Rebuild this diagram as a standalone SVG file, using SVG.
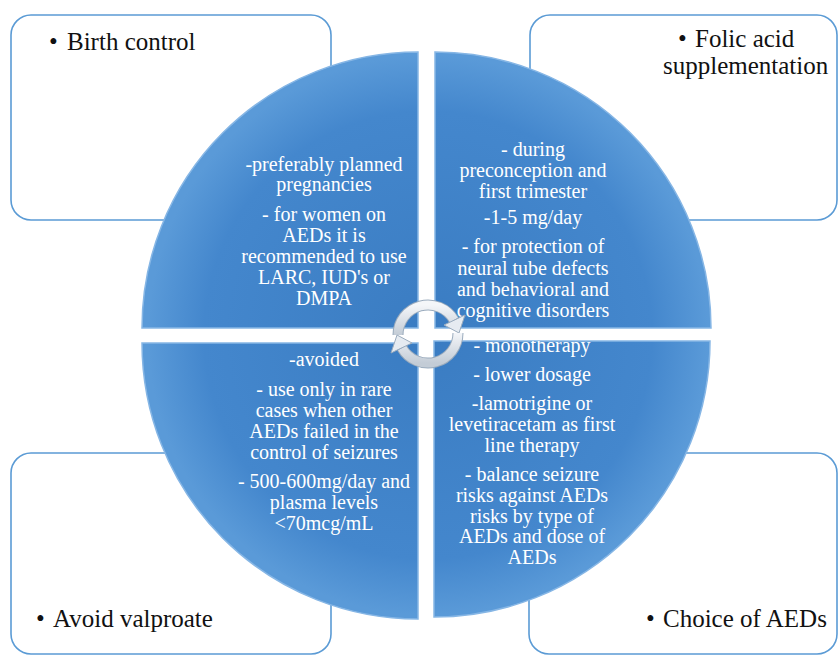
<svg xmlns="http://www.w3.org/2000/svg" width="839" height="657" viewBox="0 0 839 657">
  <defs>
    <radialGradient id="qfill" cx="428" cy="335" r="280" gradientUnits="userSpaceOnUse">
      <stop offset="0" stop-color="#3a7cc2"/>
      <stop offset="0.8" stop-color="#4487cd"/>
      <stop offset="1" stop-color="#5a9ad8"/>
    </radialGradient>
    <linearGradient id="arr" x1="0" y1="0" x2="0" y2="1">
      <stop offset="0" stop-color="#f4f6f9"/>
      <stop offset="1" stop-color="#c3ccd6"/>
    </linearGradient>
    <clipPath id="cTL"><path d="M418,328 L142,328 A276,276 0 0 1 418,52 Z"/></clipPath>
    <clipPath id="cTR"><path d="M435,328 L435,52 A276,276 0 0 1 711,328 Z"/></clipPath>
    <clipPath id="cBL"><path d="M418,343 L418,619 A276,276 0 0 1 142,343 Z"/></clipPath>
    <clipPath id="cBR"><path d="M434,341 L710,341 A276,276 0 0 1 434,617 Z"/></clipPath>
  </defs>
  <style>
    .box { fill: #ffffff; stroke: #5b9bd5; stroke-width: 1.6; }
    .quad { fill: url(#qfill); stroke: #86b6e5; stroke-width: 1.5; }
    .lbl { font-family: "Liberation Serif", "Times New Roman", serif; font-size: 25px; fill: #111111; }
    .qt { font-family: "Liberation Serif", "Times New Roman", serif; font-size: 20px; fill: #ffffff; text-anchor: middle; }
    .arcbg { fill: none; stroke: #9aabbd; stroke-width: 11; }
    .arcfg { fill: none; stroke: url(#arr); stroke-width: 9; }
    .head { fill: #e6ebf1; stroke: #9aabbd; stroke-width: 1; }
  </style>
  <rect width="839" height="657" fill="#ffffff"/>

  <g id="box-birth-control">
    <rect class="box" x="11" y="15" width="320" height="205" rx="20" ry="20"/>
    <text class="lbl" x="49" y="50">•<tspan x="67">Birth control</tspan></text>
  </g>
  <g id="box-folic-acid">
    <rect class="box" x="530" y="15" width="307" height="205" rx="20" ry="20"/>
    <text class="lbl" x="678" y="47">•<tspan x="695">Folic acid</tspan></text>
    <text class="lbl" x="663" y="74">supplementation</text>
  </g>
  <g id="box-avoid-valproate">
    <rect class="box" x="11" y="453" width="320" height="201" rx="20" ry="20"/>
    <text class="lbl" x="36" y="627">•<tspan x="53">Avoid valproate</tspan></text>
  </g>
  <g id="box-choice-aeds">
    <rect class="box" x="529" y="453" width="308" height="201" rx="20" ry="20"/>
    <text class="lbl" x="646" y="627">•<tspan x="663">Choice of AEDs</tspan></text>
  </g>

  <g id="quad-tl">
    <path class="quad" d="M418,328 L142,328 A276,276 0 0 1 418,52 Z"/>
    <g clip-path="url(#cTL)">
      <text class="qt" x="324" y="171">-preferably planned</text>
      <text class="qt" x="324" y="191">pregnancies</text>
      <text class="qt" x="324" y="221">- for women on</text>
      <text class="qt" x="324" y="242">AEDs it is</text>
      <text class="qt" x="324" y="263">recommended to use</text>
      <text class="qt" x="324" y="284">LARC, IUD's or</text>
      <text class="qt" x="324" y="305">DMPA</text>
    </g>
  </g>
  <g id="quad-tr">
    <path class="quad" d="M435,328 L435,52 A276,276 0 0 1 711,328 Z"/>
    <g clip-path="url(#cTR)">
      <text class="qt" x="533" y="156">- during</text>
      <text class="qt" x="533" y="177">preconception and</text>
      <text class="qt" x="533" y="198">first trimester</text>
      <text class="qt" x="533" y="224">-1-5 mg/day</text>
      <text class="qt" x="533" y="253">- for protection of</text>
      <text class="qt" x="533" y="275">neural tube defects</text>
      <text class="qt" x="533" y="296">and behavioral and</text>
      <text class="qt" x="533" y="317">cognitive disorders</text>
    </g>
  </g>
  <g id="quad-bl">
    <path class="quad" d="M418,343 L418,619 A276,276 0 0 1 142,343 Z"/>
    <g clip-path="url(#cBL)">
      <text class="qt" x="324" y="366">-avoided</text>
      <text class="qt" x="324" y="396">- use only in rare</text>
      <text class="qt" x="324" y="417">cases when other</text>
      <text class="qt" x="324" y="438">AEDs failed in the</text>
      <text class="qt" x="324" y="459">control of seizures</text>
      <text class="qt" x="324" y="488">- 500-600mg/day and</text>
      <text class="qt" x="324" y="509">plasma levels</text>
      <text class="qt" x="324" y="530">&lt;70mcg/mL</text>
    </g>
  </g>
  <g id="quad-br">
    <path class="quad" d="M434,341 L710,341 A276,276 0 0 1 434,617 Z"/>
    <g clip-path="url(#cBR)">
      <text class="qt" x="532" y="352">- monotherapy</text>
      <text class="qt" x="532" y="381">- lower dosage</text>
      <text class="qt" x="532" y="410">-lamotrigine  or</text>
      <text class="qt" x="532" y="431">levetiracetam as first</text>
      <text class="qt" x="532" y="452">line therapy</text>
      <text class="qt" x="532" y="481">- balance seizure</text>
      <text class="qt" x="532" y="502">risks against AEDs</text>
      <text class="qt" x="532" y="523">risks by type of</text>
      <text class="qt" x="532" y="543">AEDs and dose of</text>
      <text class="qt" x="532" y="564">AEDs</text>
    </g>
  </g>

  <g id="connectors">
    <path class="arcbg" d="M398,335 A30,30 0 0 1 454,320"/>
    <path class="arcfg" d="M398,335 A30,30 0 0 1 454,320"/>
    <polygon class="head" points="465,315 444,325 459,333"/>
    <path class="arcbg" d="M458,333 A30,30 0 0 1 402,348"/>
    <path class="arcfg" d="M458,333 A30,30 0 0 1 402,348"/>
    <polygon class="head" points="391,353 412,343 397,335"/>
  </g>
</svg>
